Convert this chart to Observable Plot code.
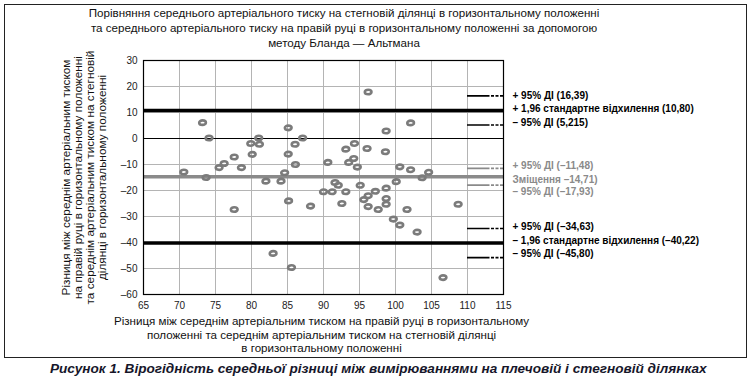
<!DOCTYPE html>
<html>
<head>
<meta charset="utf-8">
<script src="https://cdn.jsdelivr.net/npm/d3@7"></script>
<script src="https://cdn.jsdelivr.net/npm/@observablehq/plot@0.6"></script>
<style>
  html, body { margin: 0; padding: 0; background: #fff; }
  #wrap { position: relative; width: 752px; height: 384px; font-family: "Liberation Sans Narrow", "Arial Narrow", "Liberation Sans", Arial, sans-serif; }
  #border { position: absolute; left: 4px; top: 4px; width: 743px; height: 354px; border: 1.3px solid #222; box-sizing: border-box; }
  #title { position: absolute; left: 0; top: 5px; width: 688px; text-align: center; font-size: 11.6px; line-height: 15px; color: #111; }
  #chart { position: absolute; left: 0; top: 0; }
  #caption { position: absolute; left: 50px; top: 361px; font-size: 13.6px; font-weight: bold; font-style: italic; color: #16162a; font-family: "Liberation Sans", Arial, sans-serif; white-space: nowrap; }
</style>
</head>
<body>
<div id="wrap">
  <div id="border"></div>
  <div id="chart"></div>
  <div id="title">Порівняння середнього артеріального тиску на стегновій ділянці в горизонтальному положенні<br>та середнього артеріального тиску на правій руці в горизонтальному положенні за допомогою<br>методу Бланда — Альтмана</div>
  <div id="caption">Рисунок 1. Вірогідність середньої різниці між вимірюваннями на плечовій і стегновій ділянках</div>
</div>
<script>
// Mean of the two measurements (x) and their difference (y)
const meanValues = [73.2,74.1,70.6,73.7,75.5,76.2,77.6,78.6,80.1,79.9,
  81.0,81.1,82.0,84.1,84.6,85.1,86.05,87.1,85.1,86.1,
  77.6,85.15,88.2,83.0,85.55,90.6,90.0,91.2,91.6,92.05,
  93.1,92.55,94.3,93.1,96.05,98.6,94.2,93.5,94.7,95.1,
  95.6,96.2,97.2,98.7,98.7,98.7,96.2,97.6,101.6,99.7,
  100.6,103.0,96.2,102.1,98.7,100.6,102.1,104.6,103.7,100.1,
  108.7,106.6];
const diffValues = [6.1,0.2,-12.9,-15.0,-11.2,-9.6,-7.1,-11.2,-6.1,-1.9,
  0.2,-2.2,-16.4,-16.4,-13.2,4.1,-2.2,0.2,-6.0,-10.0,
  -27.3,-24.0,-26.0,-44.2,-49.6,-9.2,-20.5,-20.5,-16.9,-18.0,
  -20.5,-25.0,-1.9,-4.1,-3.85,-5.1,-7.7,-9.2,-11.0,-18.0,
  -23.5,-22.0,-20.3,-19.1,-23.1,-25.3,-26.2,-27.3,-27.3,-31.0,
  -33.3,-36.0,17.9,6.0,2.9,-10.9,-12.0,-13.0,-15.1,-16.6,
  -25.3,-53.5];

// Reference lines (limits of agreement, bias and their 95% CIs)
const refValues = [16.39, 10.80, 5.215, -11.48, -14.71, -17.93, -34.63, -40.22, -45.80];
const refLabels = ["+ 95% ДІ (16,39)", "+ 1,96 стандартне відхилення (10,80)", "– 95% ДІ (5,215)",
  "+ 95% ДІ (–11,48)", "Зміщення –14,71)", "– 95% ДІ (–17,93)",
  "+ 95% ДІ (–34,63)", "– 1,96 стандартне відхилення (–40,22)", "– 95% ДІ (–45,80)"];
const refKinds = ["ci", "limit", "ci", "ci", "bias", "ci", "ci", "limit", "ci"];
const refGroups = ["loa", "loa", "loa", "bias", "bias", "bias", "loa", "loa", "loa"];

// Axis ticks
const xTicks = [65, 70, 75, 80, 85, 90, 95, 100, 105, 110, 115];
const yTicks = [-60, -50, -40, -30, -20, -10, 0, 10, 20, 30];

const yTitle = "Різниця між середнім артеріальним тиском\nна правій руці в горизонтальному положенні\nта середнім артеріальним тиском на стегновій\nділянці в горизонтальному положенні";
const xTitle = "Різниця між середнім артеріальним тиском на правій руці в горизонтальному\nположенні та середнім артеріальним тиском на стегновій ділянці\nв горизонтальному положенні";

const points = meanValues.map((x, i) => ({x, y: diffValues[i]}));
const refs = refValues.map((v, i) => ({v, label: refLabels[i], kind: refKinds[i], group: refGroups[i]}));

const groupColor = g => g === "bias" ? "#8a8a8a" : "#000";
const xMin = xTicks[0], xMax = xTicks[xTicks.length - 1];
const ciStart = xTicks[xTicks.length - 2];

const ellipseRing = {
  draw(ctx) {
    const rx = 3.35, ry = 2.25, k = 0.5523;
    ctx.moveTo(rx, 0);
    ctx.bezierCurveTo(rx, ry * k, rx * k, ry, 0, ry);
    ctx.bezierCurveTo(-rx * k, ry, -rx, ry * k, -rx, 0);
    ctx.bezierCurveTo(-rx, -ry * k, -rx * k, -ry, 0, -ry);
    ctx.bezierCurveTo(rx * k, -ry, rx, -ry * k, rx, 0);
    ctx.closePath();
  }
};

const labelNudge = [0, -2, -2, -3, 3, 7, -2, -2, -4];
const font = '"Liberation Sans Narrow", "Arial Narrow", "Liberation Sans", Arial, sans-serif';

const chart = Plot.plot({
  width: 752,
  height: 358,
  marginTop: 60,
  marginBottom: 64,
  marginLeft: 143,
  marginRight: 249,
  style: {fontFamily: font, fontSize: "10px", color: "#222", background: "transparent", overflow: "visible"},
  x: {domain: [xMin, xMax], ticks: xTicks, tickSize: 0, tickPadding: 7, label: null, tickFormat: d => String(d)},
  y: {domain: [yTicks[0], yTicks[yTicks.length - 1]], ticks: yTicks, tickSize: 0, tickPadding: 6, label: null,
      tickFormat: d => d < 0 ? "–" + Math.abs(d) : String(d)},
  marks: [
    Plot.gridX(xTicks.slice(1, -1), {stroke: "#b4b4b4", strokeOpacity: 1, strokeWidth: 1}),
    Plot.gridY(yTicks.slice(1, -1).filter(d => d !== 0), {stroke: "#b4b4b4", strokeOpacity: 1, strokeWidth: 1}),
    Plot.ruleY([0], {stroke: "#000", strokeWidth: 1.2}),
    Plot.ruleY(refs.filter(d => d.kind !== "ci"), {y: "v", stroke: d => groupColor(d.group), strokeWidth: 3.5}),
    Plot.ruleY(refs.filter(d => d.kind === "ci"), {y: "v", x1: ciStart, x2: xMax, stroke: d => groupColor(d.group),
      strokeWidth: 1.6, strokeDasharray: "22.5 1.5 3 1.5 3 1.5 3"}),
    Plot.dot(points, {x: "x", y: "y", symbol: ellipseRing, stroke: "#7b7b7b", strokeWidth: 2.6, fill: "none"}),
    Plot.frame({stroke: "#000", strokeWidth: 1.2}),
    ...refs.map((d, i) => Plot.text([d], {y: "v", text: "label", frameAnchor: "right", textAnchor: "start",
      dx: 9, dy: labelNudge[i], fill: groupColor(d.group), fontWeight: "bold", fontSize: 10})),
    Plot.text([yTitle], {text: d => d, frameAnchor: "left", rotate: -90, dx: -59, textAnchor: "middle",
      lineAnchor: "middle", lineHeight: 12 / 11.8, fontSize: 11.8, fill: "#111"}),
    Plot.text([xTitle], {text: d => d, frameAnchor: "bottom", dy: 21, dx: -2, textAnchor: "middle",
      lineAnchor: "top", lineHeight: 13.5 / 11.6, fontSize: 11.6, fill: "#111"})
  ]
});
document.getElementById("chart").appendChild(chart);
</script>
</body>
</html>
